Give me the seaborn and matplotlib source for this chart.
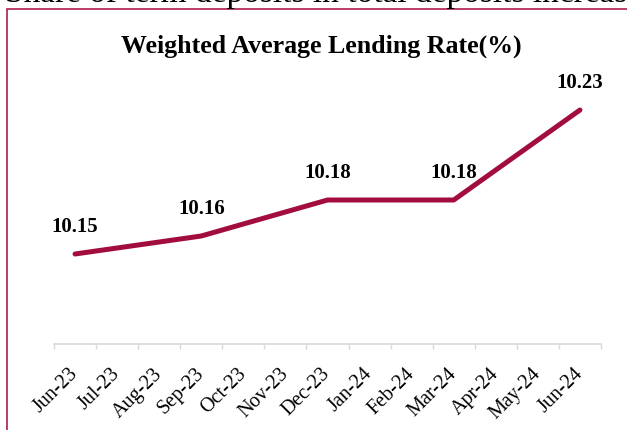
import numpy as np
import pandas as pd
import seaborn as sns
import matplotlib.pyplot as plt
from matplotlib.patches import Rectangle

months = ['Jun-23', 'Jul-23', 'Aug-23', 'Sep-23', 'Oct-23', 'Nov-23', 'Dec-23',
          'Jan-24', 'Feb-24', 'Mar-24', 'Apr-24', 'May-24', 'Jun-24']
quarters = ['Jun-23', 'Sep-23', 'Dec-23', 'Mar-24', 'Jun-24']
rates = [10.15, 10.16, 10.18, 10.18, 10.23]

sns.set_style('white')
plt.rcParams['font.family'] = ['Liberation Serif', 'DejaVu Serif']

line_color = '#a20d3d'
border_color = '#b01d49'

df = pd.DataFrame({'month': quarters, 'rate': rates})
df['pos'] = [months.index(m) for m in df['month']]

fig = plt.figure(figsize=(6.27, 4.31), dpi=100)
ax = fig.add_axes([54 / 627, 86 / 431, 547 / 627, 270 / 431])

sns.lineplot(data=df, x='pos', y='rate', ax=ax, color=line_color,
             linewidth=3.6, solid_capstyle='round', clip_on=False)

ax.set_xlim(-0.5, len(months) - 0.5)
ax.set_ylim(10.10, 10.25)

# data labels above points
for p, r in zip(df['pos'], df['rate']):
    ax.annotate('{:.2f}'.format(r), (p, r), xytext=(0, 16.6),
                textcoords='offset points', ha='center', va='baseline',
                fontsize=15, fontweight='bold', color='black')

# category axis: ticks between months, labels at month centres
ax.set_xticks(range(len(months)))
ax.set_xticklabels(months, rotation=45, ha='right', va='center',
                   rotation_mode='anchor', fontsize=14.5, color='black')
ax.set_xticks(np.arange(-0.5, len(months), 1), minor=True)
ax.tick_params(axis='x', which='major', length=0, pad=19)
ax.tick_params(axis='x', which='minor', length=3.6, width=1.0,
               color='#d9d9d9', direction='out', bottom=True)
ax.set_yticks([])
ax.set_xlabel('')
ax.set_ylabel('')
for s in ['left', 'right', 'top']:
    ax.spines[s].set_visible(False)
ax.spines['bottom'].set_color('#d9d9d9')
ax.spines['bottom'].set_linewidth(1.2)

fig.text(0.512, 1 - 53 / 431, 'Weighted Average Lending Rate(%)',
         ha='center', va='baseline', fontsize=18.6, fontweight='bold',
         color='black')

# heading of the page above the chart, cut off by the crop
fig.text(5 / 627, 1 - 2 / 431, 'Share of term deposits in total deposits increas',
         ha='left', va='baseline', fontsize=24, color='black')

fig.patches.append(Rectangle((7 / 627, -0.2), 1.2, 1.2 - 10 / 431,
                             transform=fig.transFigure, fill=False,
                             edgecolor=border_color, linewidth=1.2))

fig.savefig('out.png', dpi=100)
